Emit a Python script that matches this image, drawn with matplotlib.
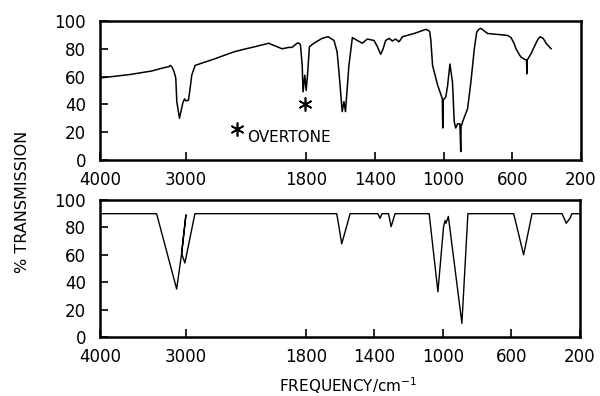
"""
IR spectrum (observed vs calculated), half-scale above 2000 cm-1
"""
import numpy as np
import matplotlib
matplotlib.use('Agg')
import matplotlib.pyplot as plt

# observed spectrum (top panel): wavenumber / % transmission
obs_nu = [4000, 3650, 3400, 3250, 3203, 3180, 3164, 3140, 3118, 3106, 3075, 3036,
          3016, 2998, 2970, 2950, 2932, 2893, 2800, 2700, 2522, 2430, 2300, 2196,
          2100, 2032, 2000, 1969, 1940, 1901, 1882, 1853, 1840, 1833,
          1823, 1818, 1808, 1800, 1792, 1781, 1755, 1707, 1672, 1638, 1620, 1609,
          1590, 1580, 1571, 1551, 1531, 1502, 1473, 1444, 1405, 1385, 1366, 1352,
          1337, 1317, 1298, 1279, 1259, 1239, 1171, 1103, 1085, 1080, 1074, 1064,
          1035, 1007, 1005, 1002, 987, 977, 963, 948, 938, 929, 919, 905, 900, 898,
          895, 889, 860, 841, 821, 807, 795, 782, 760, 743, 700, 656, 625, 607,
          590, 578, 560, 549, 530, 517, 515, 513, 500, 490, 470, 450, 438, 420,
          403, 374]
obs_t = [59, 61.5, 64, 66.5, 67, 68, 67, 64, 59, 42, 30, 41,
         44, 42.5, 43, 52, 61, 68, 70, 72, 76, 78, 80, 81.5,
         83, 84, 83, 81.5, 80, 81, 81, 84, 84, 82.7,
         68, 49, 61, 50, 61, 81.5, 84, 87.5, 88.7, 86, 78, 63.5,
         34.8, 42, 34.8, 68, 88, 86, 84, 87, 86, 81.5, 76, 80,
         86, 87.5, 85.6, 87, 85, 88.7, 91, 94, 93, 92, 86, 68,
         54, 44, 23, 43, 45.5, 53, 69, 56, 27.6, 23, 26, 26, 6, 25,
         25, 27.6, 37, 56, 80, 92, 94, 94.7, 92.5, 91, 90.5, 90, 89.5, 88,
         84, 80, 76, 74, 72.5, 72, 62, 72, 74.5, 76.7, 82, 87, 88.7, 87.5,
         84, 80]

# calculated spectrum (bottom panel)
calc_nu = [4000, 3340, 3106, 3048, 2998, 3048, 3010, 2893, 1619, 1590, 1541,
           1380, 1366, 1356, 1317, 1302, 1279, 1080, 1029, 996, 987, 982, 968,
           889, 854, 587, 529, 480, 305, 280, 257, 247, 200]
calc_t = [90, 90, 35, 61, 89, 61, 54, 90, 90, 68, 90,
          90, 86.6, 90, 90, 80.5, 90, 90, 33, 80.5, 85, 83, 88,
          10, 90, 90, 60, 90, 90, 83, 87, 90, 90]

# overtone markers
star_nu = [1806, 2406]
star_t = [40, 22.3]

xticks = [4000, 3000, 1800, 1400, 1000, 600, 200]
yticks = [0, 20, 40, 60, 80, 100]


def fwd(nu):
    nu = np.asarray(nu, dtype=float)
    return np.where(nu > 2000, 2000 + (nu - 2000) / 2.0, nu)


def inv(p):
    p = np.asarray(p, dtype=float)
    return np.where(p > 2000, 2000 + 2.0 * (p - 2000), p)


plt.rcParams['font.family'] = ['DejaVu Sans']
fig = plt.figure(figsize=(6.0, 3.96), dpi=100)
ax1 = fig.add_axes([0.1667, 0.596, 0.8016, 0.351])
ax2 = fig.add_axes([0.1667, 0.149, 0.8000, 0.346])

for ax in (ax1, ax2):
    ax.set_xscale('function', functions=(fwd, inv))
    ax.set_xlim(4000, 200)
    ax.set_ylim(0, 100)
    ax.set_xticks(xticks)
    ax.set_xticklabels([str(t) for t in xticks])
    ax.set_yticks(yticks)
    ax.xaxis.set_minor_locator(matplotlib.ticker.NullLocator())
    ax.tick_params(direction='in', length=6, width=1.2, labelsize=12,
                   top=False, right=False)
    ax.tick_params(axis='y', pad=10)
    ax.tick_params(axis='x', pad=8)
    for s in ax.spines.values():
        s.set_linewidth(1.8)

ax1.plot(obs_nu, obs_t, color='black', lw=1.1)
ax1.plot(star_nu, star_t, linestyle='none', marker=(6, 2, 0), ms=10,
         color='black', mew=1.2)
ax1.text(2289, 16.5, 'OVERTONE', fontsize=11, ha='left', va='center')

ax2.plot(calc_nu, calc_t, color='black', lw=1.0)

fig.text(0.037, 0.49, '% TRANSMISSION', rotation=90, ha='center', va='center',
         fontsize=11.5)
fig.text(0.58, 0.025, 'FREQUENCY/cm$^{-1}$', ha='center', va='center',
         fontsize=11)

plt.savefig('out.png', dpi=100, facecolor='white')
